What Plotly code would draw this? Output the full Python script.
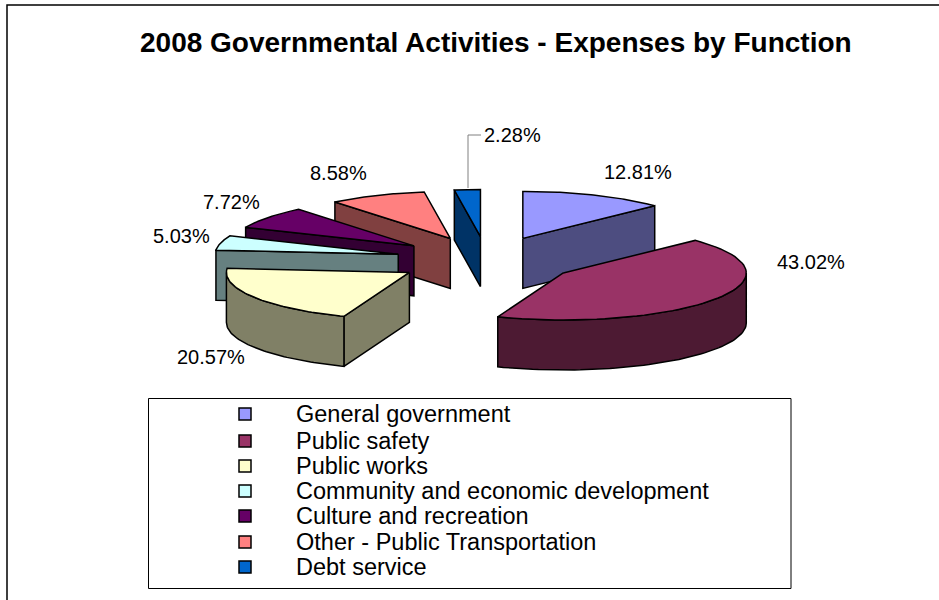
import numpy as np
import plotly.graph_objects as go

categories = ["General government", "Public safety", "Public works",
              "Community and economic development", "Culture and recreation",
              "Other - Public Transportation", "Debt service"]
percent = [12.81, 43.02, 20.57, 5.03, 7.72, 8.58, 2.28]
top_colors = ["#9999FF", "#993366", "#FFFFCC", "#CCFFFF", "#660066", "#FF8080", "#0066CC"]
side_colors = ["#4D4D80", "#4D1A33", "#808066", "#668080", "#330033", "#804040", "#003366"]
label_text = ["12.81%", "43.02%", "20.57%", "5.03%", "7.72%", "8.58%", "2.28%"]
label_x = [638, 811, 211, 181, 231, 338, 512]
label_y = [172, 262, 357, 236, 202, 173, 135]
legend_y = [414, 441, 466, 491, 516, 542, 567]

RX, RY, DEPTH = 183.0, 47.0, 50.0
EXPLODE = 0.5
CX, CY = 487.0, 260.0
OUTLINE = dict(color="#000000", width=1.5)

fig = go.Figure()


def poly(xs, ys, color, hover=None):
    fig.add_trace(go.Scatter(x=list(xs), y=list(ys), mode="lines", fill="toself",
                             fillcolor=color, line=OUTLINE, showlegend=False,
                             hoverinfo="text" if hover else "skip", text=hover))


cum = np.cumsum([0] + percent) / sum(percent) * 2 * np.pi
draw_order = [6, 5, 4, 3, 0, 2, 1]  # back to front
for i in draw_order:
    a0, a1 = cum[i], cum[i + 1]
    mid = (a0 + a1) / 2
    ox = CX + EXPLODE * RX * np.sin(mid)
    oy = CY - EXPLODE * RY * np.cos(mid)
    px = lambda t: ox + RX * np.sin(t)
    py = lambda t: oy - RY * np.cos(t)

    # cut face at the start of the slice (visible on the left half)
    if np.sin(a0) < -1e-6:
        poly([ox, px(a0), px(a0), ox, ox],
             [oy, py(a0), py(a0) + DEPTH, oy + DEPTH, oy], side_colors[i])
    # cut face at the end of the slice (visible on the right half)
    if np.sin(a1) > 1e-6:
        poly([ox, px(a1), px(a1), ox, ox],
             [oy, py(a1), py(a1) + DEPTH, oy + DEPTH, oy], side_colors[i])
    # outer rim, only the part turned towards the viewer
    r0, r1 = max(a0, np.pi / 2), min(a1, 3 * np.pi / 2)
    if r1 > r0:
        t = np.linspace(r0, r1, 60)
        poly(np.r_[px(t), px(t)[::-1], px(t)[0]],
             np.r_[py(t), py(t)[::-1] + DEPTH, py(t)[0]], side_colors[i])
    # top face
    t = np.linspace(a0, a1, 60)
    poly(np.r_[ox, px(t), ox], np.r_[oy, py(t), oy], top_colors[i], categories[i])

# leader line of the smallest slice
fig.add_trace(go.Scatter(x=[468, 468, 481], y=[188, 135, 135], mode="lines",
                         line=dict(color="#808080", width=1), showlegend=False, hoverinfo="skip"))

# legend box, swatches and texts
fig.add_shape(type="rect", x0=148.5, y0=398.5, x1=791, y1=588.5, xref="x", yref="y",
              line=dict(color="#000000", width=1), fillcolor="#FFFFFF", layer="below")
fig.add_trace(go.Scatter(x=[245] * len(categories), y=legend_y, mode="markers",
                         marker=dict(symbol="square", size=12, color=top_colors,
                                     line=dict(color="#000000", width=1.5)),
                         showlegend=False, hoverinfo="text", text=categories))
for c, y in zip(categories, legend_y):
    fig.add_annotation(x=294, y=y, text=c, showarrow=False, xanchor="left", yanchor="middle",
                       font=dict(family="Liberation Sans", size=23.5, color="#000000"))

for t, x, y in zip(label_text, label_x, label_y):
    fig.add_annotation(x=x, y=y, text=t, showarrow=False,
                       font=dict(family="Liberation Sans", size=20, color="#000000"))

fig.add_annotation(x=495.5, y=42, text="<b>2008 Governmental Activities - Expenses by Function</b>",
                   showarrow=False, font=dict(family="Liberation Sans", size=28, color="#000000"))

# outer frame runs off the right and bottom edges
fig.add_shape(type="rect", x0=7, y0=5, x1=960, y1=620, xref="x", yref="y",
              line=dict(color="#000000", width=1.5), layer="below")

fig.update_layout(
    width=939, height=600, margin=dict(l=0, r=0, t=0, b=0), showlegend=False,
    paper_bgcolor="#FFFFFF", plot_bgcolor="#FFFFFF",
    xaxis=dict(range=[0, 939], visible=False, fixedrange=True),
    yaxis=dict(range=[600, 0], visible=False, fixedrange=True),
)
fig.write_html("out.html", config=dict(displayModeBar=False),
               post_script="document.body.style.margin='0';document.body.style.overflow='hidden';")
